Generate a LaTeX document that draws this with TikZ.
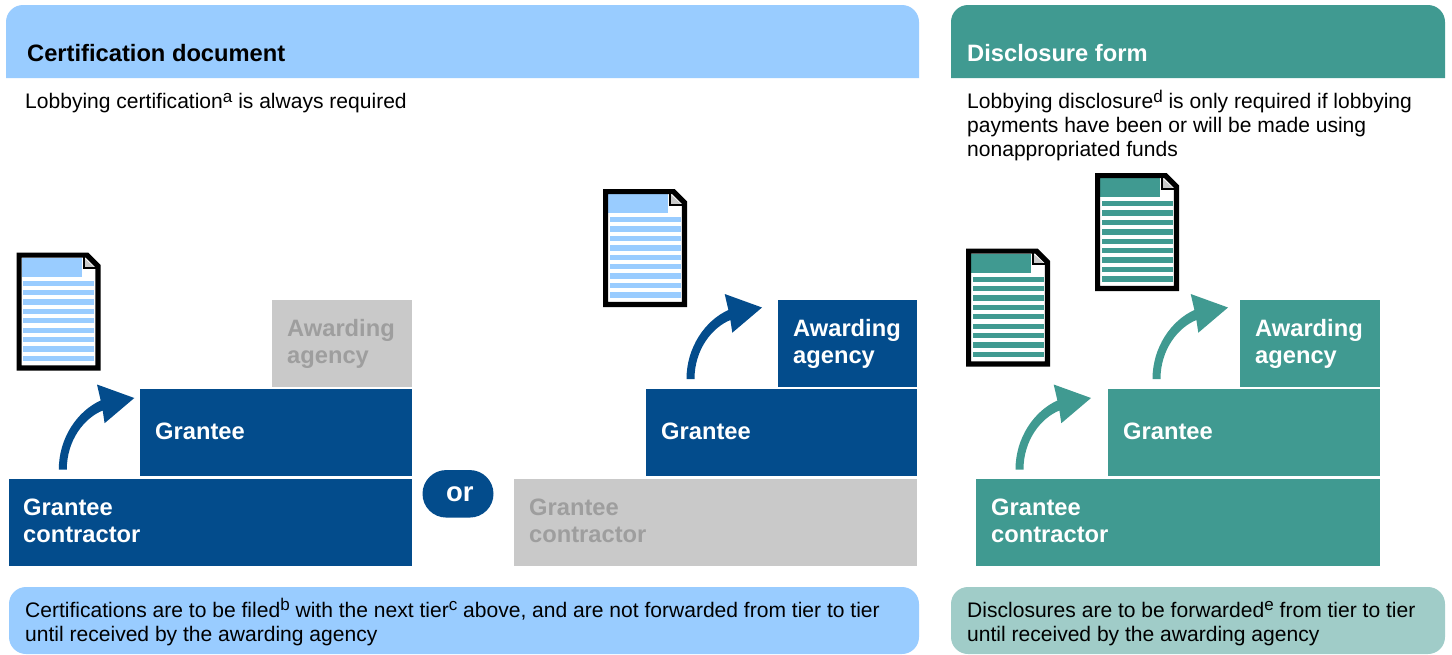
\documentclass[tikz,border=0pt]{standalone}
\usepackage{fontspec}
\usetikzlibrary{shapes.misc}
\setmainfont{Liberation Sans}
\definecolor{dkblue}{HTML}{034C8C}
\definecolor{ltblue}{HTML}{99CCFF}
\definecolor{teal1}{HTML}{409A91}
\definecolor{ltteal}{HTML}{A0CCC8}
\definecolor{gbox}{HTML}{C9C9C9}
\definecolor{gtext}{HTML}{9E9E9E}
\newcommand{\sups}[1]{\raisebox{6.5pt}{\fontsize{17}{17}\selectfont #1}}
\newcommand{\fl}{\rule{0pt}{20pt}}
\newcommand{\docicon}[3]{%
  \begin{scope}[shift={(#1,#2)}]
    \fill[white] (0,0) -- (71,0) -- (84,13.5) -- (84,118) -- (0,118) -- cycle;
    \fill[#3] (5,5) rectangle (65,24.3);
    \foreach \i in {0,...,8} {\fill[#3] (6.8,{28+9.41*\i}) rectangle (77.8,{33.3+9.41*\i});}
    \fill[gbox] (67,5) -- (78.5,15.5) -- (67,15.5) -- cycle;
    \draw[line width=1.8pt,black] (67.2,4) -- (67.2,15.6) -- (80,15.6);
    \draw[line width=5.2pt,black,miter limit=10] (2.6,2.6) -- (70.5,2.6) -- (81.4,13.5) -- (81.4,115.4) -- (2.6,115.4) -- cycle;
  \end{scope}}
\newcommand{\bentarrow}[3]{%
  \coordinate (#1) at (#2);
  \fill[#3,shift={(#1)}]
    (0,0) -- (-37.3,-13.5) -- (-33.6,2.5) .. controls (-57,13) and (-75.5,40) .. (-75.5,71.5)
    -- (-67.5,71.5) .. controls (-67.5,42) and (-50,20) .. (-31.6,12.5) -- (-29.7,25.2) -- cycle;}
\tikzset{
  box/.style={draw=none,minimum height=87pt,inner sep=0pt,outer sep=0pt,anchor=north west},
  lbl/.style={font=\fontsize{23.7}{26.8}\selectfont\bfseries,text=white,align=left,anchor=west,inner sep=0pt},
  body/.style={font=\fontsize{21.05}{24}\selectfont,text=black,align=left,anchor=north west,inner sep=0pt},
  head/.style={font=\fontsize{23.7}{27}\selectfont\bfseries,anchor=base west,inner sep=0pt},
}
\begin{document}
\begin{tikzpicture}[x=1pt,y=-1pt]
\useasboundingbox (0,0) rectangle (1452,654);
\fill[white] (0,0) rectangle (1452,654);
% headers
\fill[ltblue,rounded corners=17pt] (6,78) [sharp corners] -- (6,40) [rounded corners=17pt] -- (6,5) -- (919,5) [sharp corners] -- (919,40) -- (919,78) -- cycle;
\fill[teal1,rounded corners=17pt] (951,78) [sharp corners] -- (951,40) [rounded corners=17pt] -- (951,5) -- (1445,5) [sharp corners] -- (1445,40) -- (1445,78) -- cycle;
\node[head,text=black] (h1) at (27,61) {Certification document};
\node[head,text=white] (h2) at (967,61) {Disclosure form};
\node[body] (t1) at (25,88.5) {\fl Lobbying certification\sups{a} is always required};
\node[body] (t2) at (967,88.5) {\fl Lobbying disclosure\sups{d} is only required if lobbying\\payments have been or will be made using\\nonappropriated funds};
% left stair
\node[box,fill=gbox,minimum width=140pt] (aw1) at (272,300) {};
\node[lbl,text=gtext] (law1) at (287,344) {Awarding\\agency};
\node[box,fill=dkblue,minimum width=272pt] (gr1) at (140,389) {};
\node[lbl] (lgr1) at (155,431) {Grantee};
\node[box,fill=dkblue,minimum width=403pt] (gc1) at (9,479) {};
\node[lbl] (lgc1) at (23,520.5) {Grantee\\contractor};
% the pill between the two alternatives
\node[rounded rectangle,fill=dkblue,text=white,minimum width=71pt,minimum height=47.5pt,inner sep=0pt,font=\fontsize{27.5}{30}\selectfont\bfseries] (ornode) at (458,493.8) {\kern3.5pt or};
% middle stair
\node[box,fill=dkblue,minimum width=139pt] (aw2) at (778,300) {};
\node[lbl] (law2) at (793,344) {Awarding\\agency};
\node[box,fill=dkblue,minimum width=271pt] (gr2) at (646,389) {};
\node[lbl] (lgr2) at (661,431) {Grantee};
\node[box,fill=gbox,minimum width=403pt] (gc2) at (514,479) {};
\node[lbl,text=gtext] (lgc2) at (529,520.5) {Grantee\\contractor};
% right stair
\node[box,fill=teal1,minimum width=140pt] (aw3) at (1240,300) {};
\node[lbl] (law3) at (1255,344) {Awarding\\agency};
\node[box,fill=teal1,minimum width=272pt] (gr3) at (1108,389) {};
\node[lbl] (lgr3) at (1123,431) {Grantee};
\node[box,fill=teal1,minimum width=404pt] (gc3) at (976,479) {};
\node[lbl] (lgc3) at (991,520.5) {Grantee\\contractor};
% arrows
\bentarrow{a1}{134.3,398}{dkblue}
\bentarrow{a2}{762,307.5}{dkblue}
\bentarrow{a3}{1091,398}{teal1}
\bentarrow{a4}{1228,307.5}{teal1}
% docs
\docicon{16.5}{252.5}{ltblue}
\docicon{603}{189}{ltblue}
\docicon{966}{248.5}{teal1}
\docicon{1095}{173}{teal1}
% footers
\fill[ltblue,rounded corners=17pt] (9,654) -- (9,587) -- (919,587) -- (919,654) -- cycle;
\fill[ltteal,rounded corners=17pt] (951,654) -- (951,587) -- (1445,587) -- (1445,654) -- cycle;
\node[body] (f1) at (25,597) {\fl Certifications are to be filed\sups{b} with the next tier\sups{c} above, and are not forwarded from tier to tier\\until received by the awarding agency};
\node[body] (f2) at (967,597) {\fl Disclosures are to be forwarded\sups{e} from tier to tier\\until received by the awarding agency};
\end{tikzpicture}
\end{document}
